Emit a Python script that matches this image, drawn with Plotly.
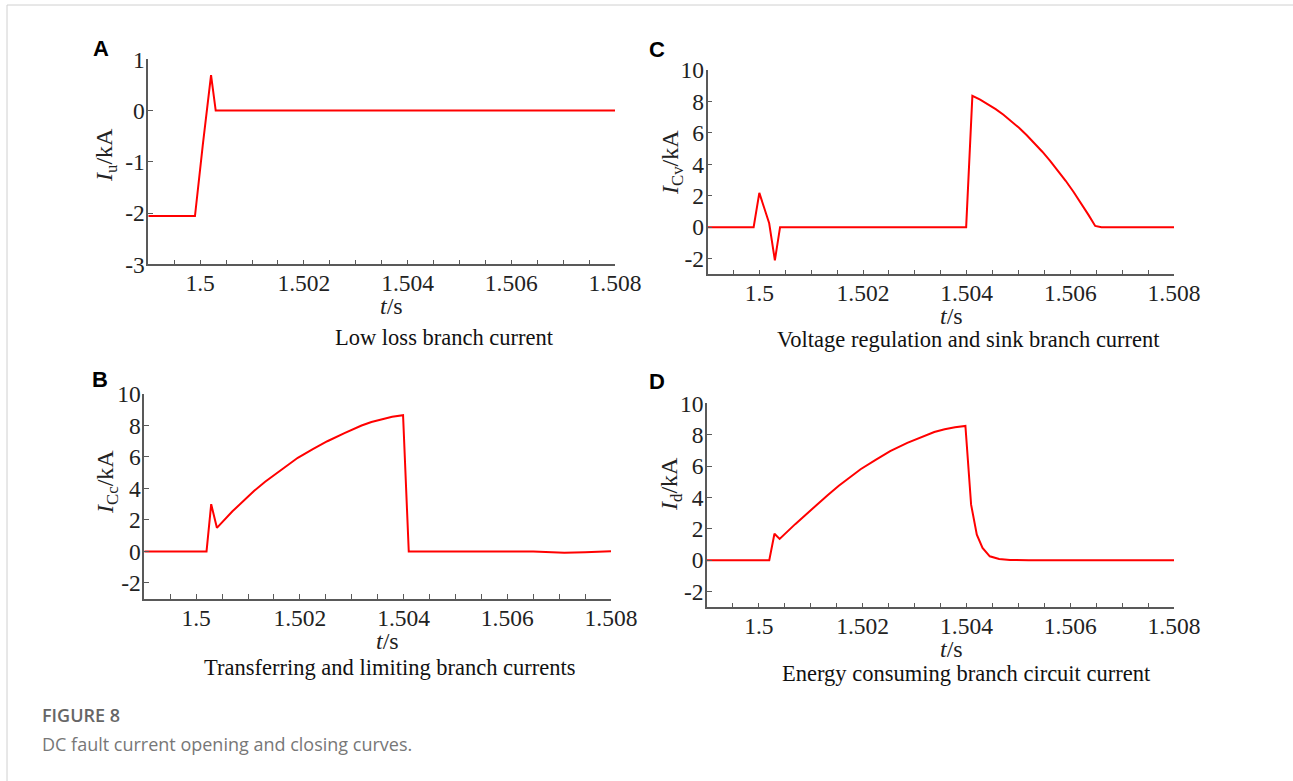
import plotly.graph_objects as go

W, H = 1293, 781

# ---------------- data ----------------
# Panel A: low loss branch current
tA = [1.499, 1.49990, 1.50005, 1.50021, 1.50030, 1.508]
iA = [-2.06, -2.06, -0.68, 0.69, 0.0, 0.0]

# Panel C: voltage regulation and sink branch current
tC = [1.499, 1.49989, 1.50000, 1.50019, 1.50030, 1.50040, 1.50399, 1.50411,
      1.50426, 1.50441, 1.50456, 1.50471, 1.50486, 1.50501, 1.50516, 1.50531,
      1.50546, 1.50561, 1.50576, 1.50591, 1.50606, 1.50621, 1.50635, 1.50648,
      1.50660, 1.508]
iC = [0.0, 0.0, 2.18, 0.25, -2.11, 0.0, 0.0, 8.35,
      8.11, 7.83, 7.51, 7.15, 6.76, 6.32, 5.85, 5.35,
      4.80, 4.22, 3.60, 2.95, 2.25, 1.52, 0.78, 0.08,
      0.0, 0.0]

# Panel B: transferring and limiting branch currents
tB = [1.499, 1.50020, 1.50029, 1.50040, 1.50070, 1.50091, 1.50112, 1.50133,
      1.50154, 1.50175, 1.50196, 1.50225, 1.50253, 1.50286, 1.50319, 1.50338,
      1.50358, 1.50378, 1.50399, 1.50410, 1.50650, 1.50680, 1.50710, 1.50750,
      1.508]
iB = [0.0, 0.0, 3.0, 1.5, 2.55, 3.22, 3.85, 4.43,
      4.95, 5.46, 5.95, 6.5, 7.0, 7.52, 8.0, 8.22,
      8.4, 8.55, 8.65, 0.0, 0.0, -0.06, -0.08, -0.05,
      0.02]

# Panel D: energy consuming branch circuit current
tD = [1.499, 1.50020, 1.50030, 1.50040, 1.50070, 1.50091, 1.50112, 1.50133,
      1.50154, 1.50175, 1.50196, 1.50225, 1.50253, 1.50286, 1.50319, 1.50338,
      1.50358, 1.50378, 1.50398, 1.50409, 1.50420, 1.50431, 1.50445, 1.50463,
      1.50484, 1.50520, 1.508]
iD = [0.0, 0.0, 1.69, 1.36, 2.3, 2.93, 3.55, 4.16,
      4.75, 5.29, 5.8, 6.4, 6.95, 7.48, 7.95, 8.17,
      8.35, 8.48, 8.56, 3.54, 1.63, 0.78, 0.25, 0.08,
      0.02, 0.0, 0.0]

x_major = [1.5, 1.502, 1.504, 1.506, 1.508]
x_major_text = ["1.5", "1.502", "1.504", "1.506", "1.508"]
yA_ticks = [1, 0, -1, -2, -3]
yB_ticks = [10, 8, 6, 4, 2, 0, -2]

panel_letters = ["A", "C", "B", "D"]
y_titles = ["<i>I</i><sub>u</sub>/kA", "<i>I</i><sub>Cv</sub>/kA",
            "<i>I</i><sub>Cc</sub>/kA", "<i>I</i><sub>d</sub>/kA"]
subtitles = ["Low loss branch current", "Voltage regulation and sink branch current",
             "Transferring and limiting branch currents", "Energy consuming branch circuit current"]

# ---------------- layout geometry (pixels) ----------------
boxes = [(148.3, 615.0, 59.3, 264.3),   # A
         (707.5, 1174.0, 70.0, 274.3),  # C
         (144.3, 611.0, 394.0, 598.7),  # B
         (707.0, 1174.0, 403.3, 607.3)] # D
letter_pos = [(101, 49), (657, 50), (100, 379), (657, 381)]
ytitle_pos = [(106, 155), (672, 163), (107, 482), (671, 484)]
xtitle_pos = [(391, 306), (951, 316), (387, 641), (951, 649)]
subtitle_pos = [(444, 337), (968, 340), (390, 667), (967, 673)]

series = [(tA, iA), (tC, iC), (tB, iB), (tD, iD)]
yranges = [[-3, 1], [-3, 10], [-3, 10], [-3, 10]]
yticks = [yA_ticks, yB_ticks, yB_ticks, yB_ticks]

serif = "Liberation Serif"
axis_col = "#595959"

fig = go.Figure()
layout = dict(width=W, height=H, margin=dict(l=0, r=0, t=0, b=0, pad=0, autoexpand=False),
              autosize=False, paper_bgcolor="white", plot_bgcolor="white", showlegend=False)
annotations = []

for k in range(4):
    xa = "xaxis" if k == 0 else f"xaxis{k+1}"
    ya = "yaxis" if k == 0 else f"yaxis{k+1}"
    xr = "x" if k == 0 else f"x{k+1}"
    yr = "y" if k == 0 else f"y{k+1}"
    l, r, t, b = boxes[k]
    t_vals, i_vals = series[k]
    fig.add_trace(go.Scatter(x=t_vals, y=i_vals, mode="lines",
                             line=dict(color="#ff0000", width=2),
                             xaxis=xr, yaxis=yr, hoverinfo="skip"))
    layout[xa] = dict(domain=[l / W, r / W], anchor=yr, range=[1.499, 1.508],
                      automargin=False,
                      tickmode="array", tickvals=x_major, ticktext=x_major_text,
                      ticks="inside", ticklen=5, tickwidth=1, tickcolor=axis_col,
                      minor=dict(tickmode="linear", tick0=1.499, dtick=0.0005,
                                 ticks="inside", ticklen=5, tickwidth=1, tickcolor=axis_col,
                                 showgrid=False),
                      showline=True, linecolor=axis_col, linewidth=1.5,
                      showgrid=False, zeroline=False, ticklabelstandoff=-3,
                      tickfont=dict(family=serif, size=23.5, color="#222"))
    layout[ya] = dict(domain=[1 - b / H, 1 - t / H], anchor=xr, range=yranges[k],
                      automargin=False,
                      tickmode="array", tickvals=yticks[k],
                      ticktext=[str(v) for v in yticks[k]],
                      ticks="inside", ticklen=5, tickwidth=1, tickcolor=axis_col,
                      showline=True, linecolor=axis_col, linewidth=1.5,
                      showgrid=False, zeroline=False, ticklabelstandoff=-3,
                      tickfont=dict(family=serif, size=23.5, color="#222"))
    annotations.append(dict(text=panel_letters[k], x=letter_pos[k][0] / W, y=1 - letter_pos[k][1] / H,
                            xref="paper", yref="paper", showarrow=False,
                            xanchor="center", yanchor="middle",
                            font=dict(family="Liberation Sans", size=22, color="black", weight="bold")))
    annotations.append(dict(text=y_titles[k], x=ytitle_pos[k][0] / W, y=1 - ytitle_pos[k][1] / H,
                            xref="paper", yref="paper", showarrow=False, textangle=-90,
                            xanchor="center", yanchor="middle",
                            font=dict(family=serif, size=24, color="#222")))
    annotations.append(dict(text="<i>t</i>/s", x=xtitle_pos[k][0] / W, y=1 - xtitle_pos[k][1] / H,
                            xref="paper", yref="paper", showarrow=False,
                            xanchor="center", yanchor="middle",
                            font=dict(family=serif, size=24, color="#222")))
    annotations.append(dict(text=subtitles[k], x=subtitle_pos[k][0] / W, y=1 - subtitle_pos[k][1] / H,
                            xref="paper", yref="paper", showarrow=False,
                            xanchor="center", yanchor="middle",
                            font=dict(family=serif, size=22.5, color="#111")))

annotations.append(dict(text="FIGURE 8", x=40 / W, y=1 - 715 / H, xref="paper", yref="paper",
                        showarrow=False, xanchor="left", yanchor="middle",
                        font=dict(family="Open Sans", size=18, color="#666", weight=600)))
annotations.append(dict(text="DC fault current opening and closing curves.", x=40 / W, y=1 - 744 / H,
                        xref="paper", yref="paper", showarrow=False, xanchor="left", yanchor="middle",
                        font=dict(family="Open Sans", size=18, color="#777")))

layout["annotations"] = annotations
layout["shapes"] = [dict(type="line", xref="paper", yref="paper",
                         x0=7 / W, x1=7 / W, y0=0, y1=1 - 5 / H,
                         line=dict(color="#d0d0d0", width=1)),
                    dict(type="line", xref="paper", yref="paper",
                         x0=7 / W, x1=1, y0=1 - 5 / H, y1=1 - 5 / H,
                         line=dict(color="#d0d0d0", width=1))]
fig.update_layout(**layout)
fig.write_html("out.html")
